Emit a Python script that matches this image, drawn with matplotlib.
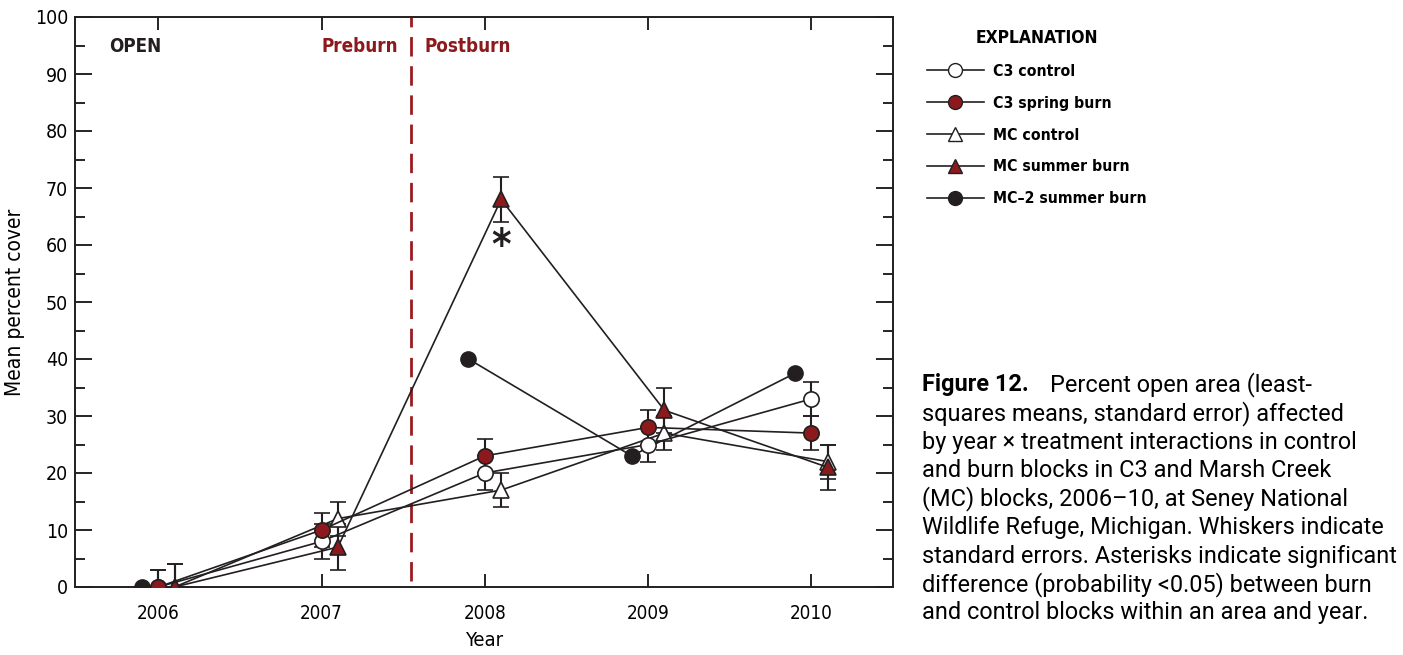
import numpy as np
import matplotlib
matplotlib.use('Agg')
import matplotlib.pyplot as plt
from matplotlib.lines import Line2D
from matplotlib.ticker import MultipleLocator

# Donnees (moyennes et erreurs standard)
years = np.array([2006, 2007, 2008, 2009, 2010])

c3_control = [0, 8, 20, 25, 33]
c3_control_err = [3, 3, 3, 3, 3]
c3_spring = [0, 10, 23, 28, 27]
c3_spring_err = [3, 3, 3, 3, 3]
mc_control = [0, 12, 17, 27, 22]
mc_control_err = [4, 3, 3, 3, 3]
mc_summer = [0, 7, 68, 31, 21]
mc_summer_err = [4, 4, 4, 4, 4]
mc2_summer = [0, np.nan, 40, 23, 37.5]

labels = ['C3 control', 'C3 spring burn', 'MC control', 'MC summer burn', 'MC\u20132 summer burn']

RED = '#8c1a1d'
BLK = '#231f20'

# police etroite pour les axes
NARROW = ['Liberation Sans Narrow', 'DejaVu Sans']
plt.rcParams['font.family'] = NARROW
plt.rcParams['font.stretch'] = 'condensed'

fig = plt.figure(figsize=(14.03, 6.55), dpi=100)
ax = fig.add_axes([75 / 1403, 68 / 655, 818 / 1403, 570 / 655])

def draw_series(x, y, err, marker, face, ms):
    ax.errorbar(x, y, yerr=err, fmt='-', color=BLK, lw=1.2, marker=marker, ms=ms,
                mfc=face, mec=BLK, mew=1.2, ecolor=BLK, elinewidth=1.5,
                capsize=6, capthick=1.5, zorder=3)

draw_series(years + 0.1, mc_control, mc_control_err, '^', 'white', 12)
draw_series(years + 0.1, mc_summer, mc_summer_err, '^', RED, 12)
draw_series(years, c3_control, c3_control_err, 'o', 'white', 11)
draw_series(years, c3_spring, c3_spring_err, 'o', RED, 11)
ax.plot(years - 0.1, mc2_summer, '-', color=BLK, lw=1.2, marker='o', ms=11,
        mfc=BLK, mec=BLK, zorder=3)

# ligne pointillee preburn / postburn
ax.axvline(2007.55, ymin=0.01, ymax=1, color='#9b1c20', lw=2, dashes=(7, 3.5), zorder=2)

ax.text(2005.7, 94.8, 'OPEN', fontsize=13.5, fontweight='bold', color=BLK, va='center')
ax.text(2007.47, 94.8, 'Preburn', fontsize=13.5, fontweight='bold', color=RED, va='center', ha='right')
ax.text(2007.63, 94.8, 'Postburn', fontsize=13.5, fontweight='bold', color=RED, va='center')
ax.text(2008.1, 59.7, '*', fontsize=30, fontweight='bold', color=BLK, ha='center', va='center',
        family='DejaVu Sans')

ax.set_xlim(2005.49, 2010.5)
ax.set_ylim(0, 100)
ax.set_xticks(years)
ax.yaxis.set_major_locator(MultipleLocator(10))
ax.yaxis.set_minor_locator(MultipleLocator(5))
ax.tick_params(axis='x', direction='in', length=9.5, width=1.2, top=True, labelsize=13.5, pad=12)
ax.tick_params(axis='y', which='major', direction='in', length=12.5, width=1.2, right=True,
               labelsize=14, pad=5)
ax.tick_params(axis='y', which='minor', direction='in', length=7.5, width=1.2, right=True)
for s in ax.spines.values():
    s.set_linewidth(1.4)
    s.set_color(BLK)
ax.set_xlabel('Year', fontsize=14.5, labelpad=6)
ax.set_ylabel('Mean percent cover', fontsize=15, labelpad=7)

# legende
handles = [
    Line2D([], [], color=BLK, lw=1.2, marker='o', ms=10, mfc='white', mec=BLK),
    Line2D([], [], color=BLK, lw=1.2, marker='o', ms=10, mfc=RED, mec=BLK),
    Line2D([], [], color=BLK, lw=1.2, marker='^', ms=10, mfc='white', mec=BLK),
    Line2D([], [], color=BLK, lw=1.2, marker='^', ms=10, mfc=RED, mec=BLK),
    Line2D([], [], color=BLK, lw=1.2, marker='o', ms=10, mfc=BLK, mec=BLK),
]
leg = fig.legend(handles, labels, loc='upper left', bbox_to_anchor=(913 / 1403, 1 - 15 / 655),
                 frameon=False, title='EXPLANATION', handlelength=3.6, handletextpad=0.6,
                 labelspacing=1.07, prop={'family': NARROW, 'weight': 'bold', 'size': 11.3,
                                          'stretch': 'condensed'})
leg.get_title().set_fontweight('bold')
leg.get_title().set_fontsize(12.5)
leg._legend_box.align = 'center'

# legende de la figure
caption = ['squares means, standard error) affected',
           'by year \u00d7 treatment interactions in control',
           'and burn blocks in C3 and Marsh Creek',
           '(MC) blocks, 2006\u201310, at Seney National',
           'Wildlife Refuge, Michigan. Whiskers indicate',
           'standard errors. Asterisks indicate significant',
           'difference (probability <0.05) between burn',
           'and control blocks within an area and year.']
CAP = ['Roboto', 'DejaVu Sans']
x0 = 922 / 1403
fig.text(x0, 1 - 385 / 655, 'Figure 12.', fontsize=16.9, fontweight='bold', va='center',
         family=CAP, stretch='normal')
fig.text(1050 / 1403, 1 - 385 / 655, 'Percent open area (least-', fontsize=16.9, va='center',
         family=CAP, stretch='normal')
for i, line in enumerate(caption):
    fig.text(x0, 1 - (385 + 28.5 * (i + 1)) / 655, line, fontsize=16.9, va='center',
             family=CAP, stretch='normal')

fig.savefig('out.png', dpi=100)
